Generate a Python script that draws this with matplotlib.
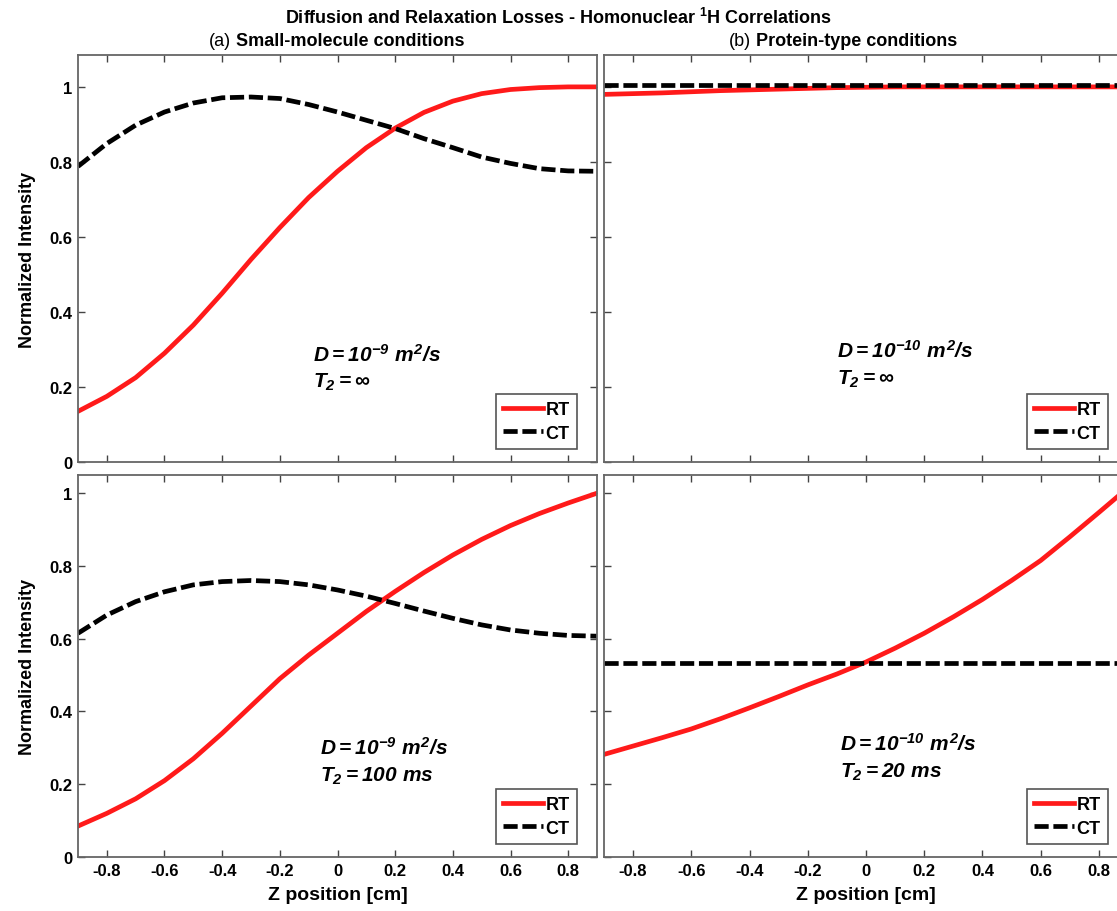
import matplotlib.pyplot as plt

plt.rcParams['font.family'] = ['Liberation Sans', 'DejaVu Sans']
plt.rcParams['mathtext.fontset'] = 'custom'
plt.rcParams['mathtext.it'] = 'Liberation Sans:italic:bold'
plt.rcParams['mathtext.rm'] = 'Liberation Sans:italic:bold'
plt.rcParams['mathtext.bf'] = 'Liberation Sans:italic:bold'

# z positions (cm) where the curves were read
z = [-0.9, -0.8, -0.7, -0.6, -0.5, -0.4, -0.3, -0.2, -0.1, 0.0,
     0.1, 0.2, 0.3, 0.4, 0.5, 0.6, 0.7, 0.8, 0.9]

# (a) small molecule, D = 1e-9, T2 = inf
rt_a1 = [0.135, 0.175, 0.225, 0.29, 0.365, 0.45, 0.54, 0.625, 0.705, 0.775,
         0.838, 0.89, 0.932, 0.962, 0.982, 0.993, 0.998, 1.0, 1.0]
ct_a1 = [0.788, 0.849, 0.898, 0.933, 0.957, 0.971, 0.973, 0.969, 0.953, 0.933,
         0.911, 0.889, 0.862, 0.838, 0.813, 0.796, 0.782, 0.776, 0.775]
# (b) protein, D = 1e-10, T2 = inf
rt_b1 = [0.980, 0.982, 0.984, 0.987, 0.990, 0.992, 0.994, 0.996, 0.998, 0.999,
         1.0, 1.0, 1.0, 1.0, 1.0, 1.0, 1.0, 1.0, 1.0]
ct_b1 = [1.004] * 19
# (a) small molecule, D = 1e-9, T2 = 100 ms
rt_a2 = [0.085, 0.12, 0.16, 0.21, 0.27, 0.34, 0.415, 0.49, 0.555, 0.615,
         0.675, 0.73, 0.782, 0.83, 0.873, 0.911, 0.944, 0.973, 1.0]
ct_a2 = [0.615, 0.665, 0.702, 0.729, 0.748, 0.757, 0.760, 0.757, 0.748, 0.734,
         0.717, 0.697, 0.676, 0.656, 0.638, 0.624, 0.615, 0.609, 0.607]
# (b) protein, D = 1e-10, T2 = 20 ms
rt_b2 = [0.282, 0.305, 0.328, 0.352, 0.380, 0.410, 0.441, 0.473, 0.503, 0.536,
         0.574, 0.615, 0.660, 0.708, 0.760, 0.815, 0.880, 0.947, 1.015]
ct_b2 = [0.534] * 19

xticks = [-0.8, -0.6, -0.4, -0.2, 0, 0.2, 0.4, 0.6, 0.8]
xlabels = ['-0.8', '-0.6', '-0.4', '-0.2', '0', '0.2', '0.4', '0.6', '0.8']
yticks = [0, 0.2, 0.4, 0.6, 0.8, 1]
ylabels = ['0', '0.2', '0.4', '0.6', '0.8', '1']

fig = plt.figure(figsize=(11.17, 9.12), dpi=100)
W, H = 1117, 912


def make_ax(x0, x1, ytop, ybot):
    return fig.add_axes([x0 / W, (H - ybot) / H, (x1 - x0) / W, (ybot - ytop) / H])


axes = {
    'a1': make_ax(78, 597, 56, 463),
    'b1': make_ax(604, 1128, 56, 463),
    'a2': make_ax(78, 597, 476, 858),
    'b2': make_ax(604, 1128, 476, 858),
}

# key: rt, ct, ylim top, D exponent, T2 text, text x, text y line 1, line 2
data = {
    'a1': (rt_a1, ct_a1, 1.085, '-9', r'\infty', -0.085, 0.27, 0.2),
    'b1': (rt_b1, ct_b1, 1.085, '-10', r'\infty', -0.1, 0.28, 0.21),
    'a2': (rt_a2, ct_a2, 1.05, '-9', r'100\ ms', -0.06, 0.285, 0.21),
    'b2': (rt_b2, ct_b2, 1.05, '-10', r'20\ ms', -0.09, 0.295, 0.22),
}

for key, ax in axes.items():
    rt, ct, ytop, dexp, t2, tx, ty1, ty2 = data[key]
    ax.plot(z, rt, color='#ff1a1a', lw=3.4, label='RT')
    ax.plot(z, ct, color='black', lw=3.4, ls=(0, (3, 1)), label='CT')
    ax.set_xlim(-0.9, 0.9)
    ax.set_ylim(0, ytop)
    ax.set_xticks(xticks)
    ax.set_yticks(yticks)
    ax.tick_params(direction='in', top=True, right=True, length=5, width=1,
                   color='#444444', labelsize=12, pad=4)
    for s in ax.spines.values():
        s.set_color('#666666')
        s.set_linewidth(1.3)
    if key.startswith('a'):
        ax.set_yticklabels(ylabels, fontweight='bold')
        ax.set_ylabel('Normalized Intensity', fontsize=13, fontweight='bold', labelpad=10)
    else:
        ax.set_yticklabels([])
    if key.endswith('2'):
        ax.set_xticklabels(xlabels, fontweight='bold')
        ax.set_xlabel('Z position [cm]', fontsize=14, fontweight='bold', labelpad=6)
    else:
        ax.set_xticklabels([])
    ax.text(tx, ty1, r'$D = 10^{' + dexp + r'}\ m^2/s$', fontsize=15)
    ax.text(tx, ty2, r'$T_2 = ' + t2 + r'$', fontsize=15)

    w_ax = ax.get_position().width * W
    h_ax = ax.get_position().height * H
    leg = ax.legend(loc='lower right', bbox_to_anchor=(1 - 20 / w_ax, 13 / h_ax),
                    borderaxespad=0, fontsize=13, handlelength=2.2,
                    handletextpad=0.15, borderpad=0.4, labelspacing=0.35,
                    fancybox=False, framealpha=1)
    leg.get_frame().set_edgecolor('#555555')
    leg.get_frame().set_linewidth(1.2)
    for t in leg.get_texts():
        t.set_fontweight('bold')

fig.text(0.5, 1 - 18 / H, r'Diffusion and Relaxation Losses - Homonuclear $^\mathregular{1}$H Correlations',
         ha='center', va='center', fontsize=13, fontweight='bold')
fig.text(231 / W, 1 - 41 / H, '(a)', ha='right', va='center', fontsize=13)
fig.text(236 / W, 1 - 41 / H, 'Small-molecule conditions',
         ha='left', va='center', fontsize=13, fontweight='bold')
fig.text(751 / W, 1 - 41 / H, '(b)', ha='right', va='center', fontsize=13)
fig.text(756 / W, 1 - 41 / H, 'Protein-type conditions',
         ha='left', va='center', fontsize=13, fontweight='bold')

fig.savefig('out.png', dpi=100)
